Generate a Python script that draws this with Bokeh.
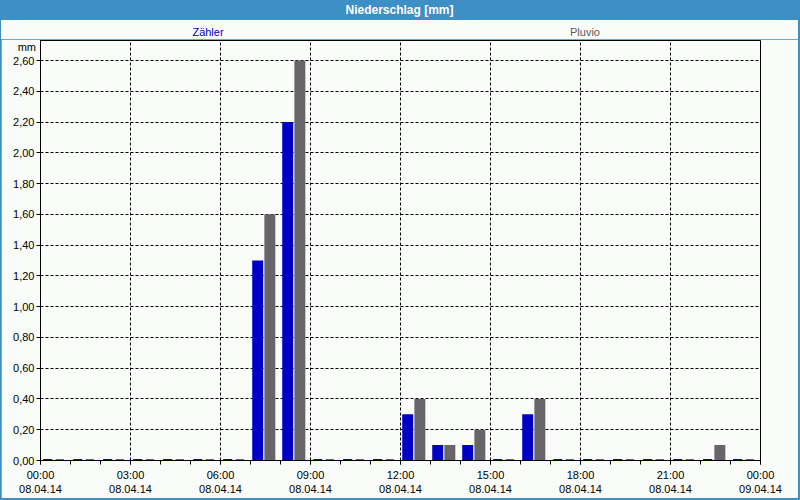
from bokeh.plotting import figure
from bokeh.models import FixedTicker, Div, ColumnDataSource
from bokeh.layouts import column
from bokeh.embed import file_html
from bokeh.resources import INLINE

# ---- data ----
title_text = "Niederschlag [mm]"
unit_text = "mm"
series_names = ["Zähler", "Pluvio"]
hours = list(range(24))
zaehler = [0, 0, 0, 0, 0, 0, 0, 1.3, 2.2, 0, 0, 0, 0.3, 0.1, 0.1, 0, 0.3, 0, 0, 0, 0, 0, 0, 0]
pluvio = [0, 0, 0, 0, 0, 0, 0, 1.6, 2.6, 0, 0, 0, 0.4, 0.1, 0.2, 0, 0.4, 0, 0, 0, 0, 0, 0.1, 0]
x_ticks = [0, 3, 6, 9, 12, 15, 18, 21, 24]
x_tick_labels = ["00:00\n08.04.14", "03:00\n08.04.14", "06:00\n08.04.14", "09:00\n08.04.14",
                 "12:00\n08.04.14", "15:00\n08.04.14", "18:00\n08.04.14", "21:00\n08.04.14",
                 "00:00\n09.04.14"]
y_ticks = [0.0, 0.2, 0.4, 0.6, 0.8, 1.0, 1.2, 1.4, 1.6, 1.8, 2.0, 2.2, 2.4, 2.6]
y_tick_labels = ["0,00", "0,20", "0,40", "0,60", "0,80", "1,00", "1,20", "1,40", "1,60",
                 "1,80", "2,00", "2,20", "2,40", "2,60"]

# ---- styles ----
FRAME_BLUE = "#3d8fc6"
BG = "#fafcfa"
BLUE = "#0000c4"
GRAY = "#676569"
FONT = "Liberation Sans"

src = ColumnDataSource(dict(
    xz=[h + 0.24 for h in hours],
    xp=[h + 0.645 for h in hours],
    z=zaehler,
    p=pluvio,
))

p = figure(width=797, height=459, x_range=(0, 24), y_range=(0, 2.73),
           output_backend="svg", toolbar_location=None,
           min_border_left=39, min_border_right=38, min_border_top=1, min_border_bottom=38,
           background_fill_color=BG, border_fill_color=BG)
p.margin = 0
p.outline_line_color = "black"
p.outline_line_width = 1

p.vbar(x="xz", top="z", width=0.365, bottom=0, source=src, fill_color=BLUE, line_color=None)
p.vbar(x="xp", top="p", width=0.365, bottom=0, source=src, fill_color=GRAY, line_color=None)
p.rect(x="xz", y=0, width=0.3, height=3, height_units="screen", source=src,
       fill_color=BLUE, line_color=None)
p.rect(x="xp", y=0, width=0.28, height=3, height_units="screen", source=src,
       fill_color=GRAY, line_color=None)

xt = FixedTicker(ticks=x_ticks, minor_ticks=list(range(25)))
yt = FixedTicker(ticks=y_ticks, minor_ticks=[])
p.xaxis.ticker = xt
p.yaxis.ticker = yt
p.xaxis.major_label_overrides = {t: l for t, l in zip(x_ticks, x_tick_labels)}
p.yaxis.major_label_overrides = {t: l for t, l in zip(y_ticks, y_tick_labels)}

for ax in (p.xaxis[0], p.yaxis[0]):
    ax.axis_line_color = "black"
    ax.major_tick_line_color = "black"
    ax.minor_tick_line_color = "black"
    ax.major_tick_in = 0
    ax.minor_tick_in = 0
    ax.major_label_text_font = FONT
    ax.major_label_text_font_size = "11px"
    ax.major_label_text_color = "black"
p.xaxis.major_tick_out = 4
p.xaxis.minor_tick_out = 4
p.xaxis.major_label_standoff = 4
p.yaxis.major_tick_out = 4
p.yaxis.minor_tick_out = 0
p.yaxis.major_label_standoff = 2

for g in (p.xgrid[0], p.ygrid[0]):
    g.grid_line_color = "black"
    g.grid_line_dash = "3 2"
    g.grid_line_width = 1
p.xgrid.ticker = xt
p.ygrid.ticker = yt

header_html = (
    f'<div style="width:797px;height:20px;line-height:20px;background:{FRAME_BLUE};color:white;'
    f'font-weight:bold;text-align:center;font-size:12px;font-family:\'{FONT}\';">{title_text}</div>'
    f'<div style="position:relative;width:797px;height:19px;background:{BG};'
    f'font-family:\'{FONT}\';font-size:11px;">'
    f'<span style="position:absolute;left:207px;top:4px;line-height:16px;transform:translateX(-50%);'
    f'color:#0000c0;white-space:nowrap;">{series_names[0]}</span>'
    f'<span style="position:absolute;left:584px;top:4px;line-height:16px;transform:translateX(-50%);'
    f'color:#5a5a5a;white-space:nowrap;">{series_names[1]}</span>'
    f'<span style="position:absolute;left:0px;width:35px;text-align:right;top:20px;line-height:14px;'
    f'color:black;z-index:20;">{unit_text}</span>'
    f'</div>'
)

header = Div(text=header_html, width=797, height=39, margin=0,
             styles={"overflow": "visible", "z-index": "20", "position": "relative",
                     "background-color": BG})

layout = column(header, p, spacing=0,
                styles={"border-left": f"1px solid {FRAME_BLUE}",
                        "border-right": f"2px solid {FRAME_BLUE}",
                        "border-bottom": f"2px solid {FRAME_BLUE}",
                        "background-color": FRAME_BLUE})

open("out.html", "w").write(file_html(layout, INLINE))
